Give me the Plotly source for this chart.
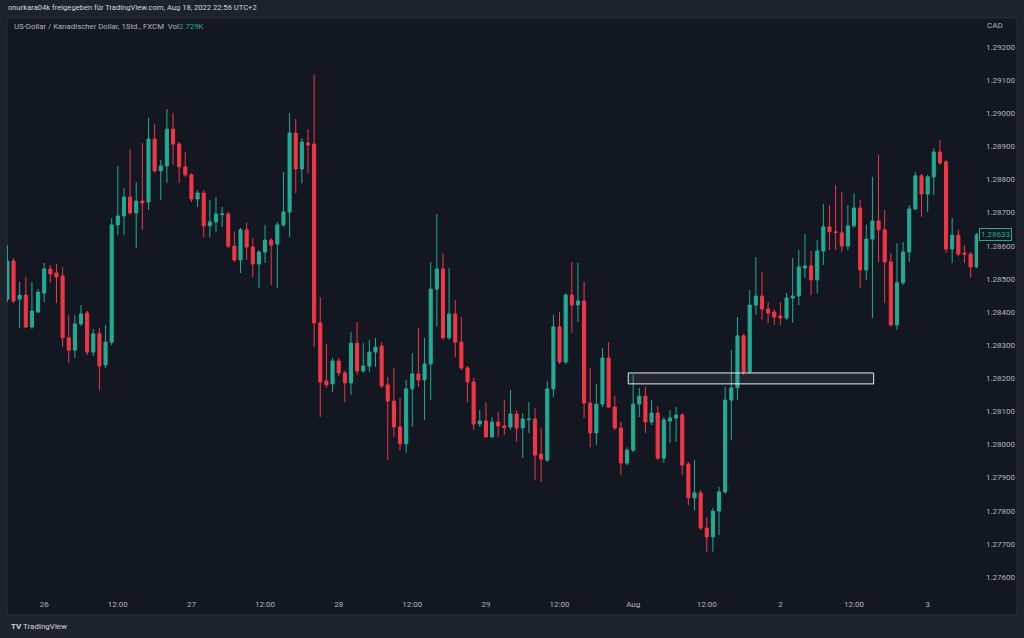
import plotly.graph_objects as go

# ---------------- data (USD/CAD, 1h candles, FXCM) ----------------
first_bar = -6  # bar index of first visible candle (0 = Jul 26 00:00)
opens = [1.28439, 1.28554, 1.28439, 1.28451, 1.28355, 1.28400, 1.28457, 1.28530, 1.28518, 1.28509,
         1.28322, 1.28285, 1.28364, 1.28397, 1.28279, 1.28334, 1.28240, 1.28309, 1.28663, 1.28690,
         1.28747, 1.28699, 1.28735, 1.28732, 1.28922, 1.28826, 1.28841, 1.28952, 1.28907, 1.28838,
         1.28814, 1.28741, 1.28759, 1.28660, 1.28672, 1.28694, 1.28696, 1.28599, 1.28557, 1.28648,
         1.28596, 1.28545, 1.28581, 1.28617, 1.28605, 1.28663, 1.28702, 1.28940, 1.28832, 1.28910,
         1.28907, 1.28367, 1.28192, 1.28183, 1.28252, 1.28216, 1.28186, 1.28306, 1.28222, 1.28237,
         1.28279, 1.28297, 1.28180, 1.28131, 1.28053, 1.28002, 1.28168, 1.28213, 1.28195, 1.28243,
         1.28469, 1.28530, 1.28322, 1.28394, 1.28309, 1.28231, 1.28189, 1.28062, 1.28071, 1.28023,
         1.28068, 1.28056, 1.28053, 1.28092, 1.28050, 1.28075, 1.28077, 1.27971, 1.27953, 1.28168,
         1.28355, 1.28249, 1.28451, 1.28421, 1.28433, 1.28125, 1.28035, 1.28122, 1.28261, 1.28113,
         1.28050, 1.27944, 1.27983, 1.28122, 1.28146, 1.28068, 1.28095, 1.27959, 1.28071, 1.28080,
         1.28089, 1.27941, 1.27839, 1.27854, 1.27748, 1.27721, 1.27799, 1.27857, 1.28134, 1.28171,
         1.28328, 1.28219, 1.28421, 1.28448, 1.28409, 1.28400, 1.28388, 1.28382, 1.28442, 1.28448,
         1.28533, 1.28539, 1.28497, 1.28584, 1.28657, 1.28642, 1.28639, 1.28599, 1.28660, 1.28714,
         1.28527, 1.28620, 1.28675, 1.28648, 1.28551, 1.28361, 1.28488, 1.28581, 1.28711, 1.28811,
         1.28756, 1.28808, 1.28883, 1.28853, 1.28590, 1.28632, 1.28578, 1.28575, 1.28536]
highs = [1.28602, 1.28563, 1.28491, 1.28506, 1.28491, 1.28469, 1.28548, 1.28542, 1.28545, 1.28536,
         1.28391, 1.28391, 1.28421, 1.28403, 1.28349, 1.28352, 1.28361, 1.28684, 1.28841, 1.28774,
         1.28892, 1.28792, 1.28910, 1.28986, 1.28967, 1.28859, 1.29013, 1.29001, 1.28913, 1.28883,
         1.28820, 1.28768, 1.28768, 1.28738, 1.28747, 1.28717, 1.28702, 1.28642, 1.28654, 1.28669,
         1.28623, 1.28587, 1.28663, 1.28623, 1.28672, 1.28823, 1.29001, 1.28983, 1.28925, 1.28952,
         1.29116, 1.28445, 1.28303, 1.28261, 1.28261, 1.28222, 1.28340, 1.28370, 1.28306, 1.28316,
         1.28322, 1.28309, 1.28204, 1.28231, 1.28140, 1.28195, 1.28276, 1.28352, 1.28322, 1.28551,
         1.28696, 1.28578, 1.28533, 1.28436, 1.28385, 1.28237, 1.28201, 1.28104, 1.28128, 1.28083,
         1.28098, 1.28134, 1.28165, 1.28104, 1.28095, 1.28128, 1.28110, 1.28050, 1.28192, 1.28391,
         1.28400, 1.28457, 1.28551, 1.28548, 1.28491, 1.28231, 1.28183, 1.28291, 1.28309, 1.28146,
         1.28068, 1.27992, 1.28210, 1.28171, 1.28174, 1.28134, 1.28116, 1.28083, 1.28104, 1.28113,
         1.28095, 1.27947, 1.27953, 1.27863, 1.27781, 1.27808, 1.27872, 1.28174, 1.28285, 1.28385,
         1.28334, 1.28466, 1.28566, 1.28521, 1.28430, 1.28409, 1.28430, 1.28457, 1.28563, 1.28587,
         1.28636, 1.28584, 1.28617, 1.28726, 1.28723, 1.28783, 1.28762, 1.28723, 1.28759, 1.28738,
         1.28663, 1.28808, 1.28874, 1.28708, 1.28578, 1.28608, 1.28611, 1.28723, 1.28823, 1.28817,
         1.28814, 1.28895, 1.28919, 1.28859, 1.28684, 1.28648, 1.28602, 1.28581, 1.28639]
lows = [1.28430, 1.28427, 1.28352, 1.28352, 1.28349, 1.28397, 1.28430, 1.28488, 1.28427, 1.28294,
        1.28246, 1.28261, 1.28358, 1.28270, 1.28267, 1.28165, 1.28231, 1.28300, 1.28632, 1.28632,
        1.28693, 1.28593, 1.28648, 1.28708, 1.28820, 1.28738, 1.28789, 1.28844, 1.28789, 1.28808,
        1.28732, 1.28717, 1.28626, 1.28626, 1.28642, 1.28657, 1.28593, 1.28551, 1.28518, 1.28557,
        1.28506, 1.28472, 1.28548, 1.28482, 1.28472, 1.28657, 1.28626, 1.28759, 1.28789, 1.28820,
        1.28294, 1.28083, 1.28171, 1.28159, 1.28207, 1.28128, 1.28149, 1.28210, 1.28216, 1.28219,
        1.28234, 1.28171, 1.27953, 1.28023, 1.27983, 1.27974, 1.28053, 1.28174, 1.28074, 1.28134,
        1.28355, 1.28316, 1.28316, 1.28264, 1.28225, 1.28128, 1.28044, 1.28053, 1.28020, 1.28020,
        1.28023, 1.28029, 1.28044, 1.28008, 1.27959, 1.28035, 1.27893, 1.27887, 1.27947, 1.28143,
        1.28243, 1.28243, 1.28337, 1.28370, 1.28080, 1.27992, 1.27999, 1.28113, 1.28110, 1.28044,
        1.27908, 1.27938, 1.27977, 1.28083, 1.28035, 1.28059, 1.27953, 1.27944, 1.28005, 1.28008,
        1.27908, 1.27817, 1.27802, 1.27742, 1.27676, 1.27676, 1.27727, 1.27851, 1.28014, 1.28134,
        1.28210, 1.28213, 1.28391, 1.28376, 1.28367, 1.28361, 1.28361, 1.28376, 1.28367, 1.28421,
        1.28503, 1.28451, 1.28457, 1.28542, 1.28587, 1.28587, 1.28581, 1.28587, 1.28654, 1.28472,
        1.28497, 1.28382, 1.28551, 1.28427, 1.28355, 1.28346, 1.28482, 1.28551, 1.28708, 1.28687,
        1.28702, 1.28753, 1.28844, 1.28578, 1.28548, 1.28569, 1.28548, 1.28503, 1.28533]
closes = [1.28554, 1.28433, 1.28451, 1.28355, 1.28403, 1.28460, 1.28530, 1.28515, 1.28506, 1.28322,
          1.28285, 1.28364, 1.28394, 1.28279, 1.28334, 1.28237, 1.28309, 1.28663, 1.28690, 1.28747,
          1.28699, 1.28735, 1.28729, 1.28922, 1.28826, 1.28841, 1.28952, 1.28907, 1.28838, 1.28814,
          1.28741, 1.28759, 1.28660, 1.28672, 1.28696, 1.28696, 1.28599, 1.28557, 1.28648, 1.28596,
          1.28545, 1.28581, 1.28617, 1.28602, 1.28663, 1.28702, 1.28940, 1.28832, 1.28913, 1.28904,
          1.28367, 1.28189, 1.28180, 1.28252, 1.28216, 1.28186, 1.28306, 1.28222, 1.28237, 1.28279,
          1.28294, 1.28177, 1.28131, 1.28053, 1.28002, 1.28168, 1.28213, 1.28195, 1.28243, 1.28469,
          1.28530, 1.28322, 1.28394, 1.28309, 1.28231, 1.28189, 1.28062, 1.28071, 1.28023, 1.28068,
          1.28056, 1.28051, 1.28092, 1.28050, 1.28077, 1.28077, 1.27968, 1.27956, 1.28168, 1.28355,
          1.28249, 1.28451, 1.28421, 1.28433, 1.28125, 1.28035, 1.28122, 1.28261, 1.28113, 1.28050,
          1.27944, 1.27983, 1.28122, 1.28146, 1.28068, 1.28095, 1.27959, 1.28074, 1.28080, 1.28089,
          1.27938, 1.27839, 1.27854, 1.27748, 1.27721, 1.27799, 1.27857, 1.28134, 1.28171, 1.28328,
          1.28219, 1.28421, 1.28448, 1.28409, 1.28397, 1.28385, 1.28382, 1.28442, 1.28448, 1.28536,
          1.28539, 1.28497, 1.28584, 1.28657, 1.28642, 1.28640, 1.28599, 1.28660, 1.28714, 1.28527,
          1.28620, 1.28675, 1.28648, 1.28551, 1.28361, 1.28488, 1.28581, 1.28711, 1.28811, 1.28756,
          1.28808, 1.28883, 1.28850, 1.28590, 1.28632, 1.28575, 1.28575, 1.28536, 1.28633]

# time axis labels (bar index -> label; weekend gap collapsed)
tick_bars = [0, 12, 24, 36, 48, 60, 72, 84, 96, 108, 120, 132, 144]
tick_text = ["26", "12:00", "27", "12:00", "28", "12:00", "29", "12:00",
             "Aug", "12:00", "2", "12:00", "3"]

# drawn zone (rectangle)
zone_bar_start, zone_bar_end = 95.2, 135.2
zone_low, zone_high = 1.28183, 1.28216

last_price = closes[-1]
vol_text = "2.729K"

# ---------------- styling ----------------
UP = "#22ab94"
DOWN = "#f23645"
PANEL = "#131722"
FRAME = "#1e222d"
TXT = "#b2b5be"
FONT = "Roboto, Liberation Sans, sans-serif"

bars = list(range(first_bar, first_bar + len(opens)))

fig = go.Figure()
fig.add_trace(go.Candlestick(
    x=bars, open=opens, high=highs, low=lows, close=closes,
    increasing=dict(line=dict(color=UP, width=1), fillcolor=UP),
    decreasing=dict(line=dict(color=DOWN, width=1), fillcolor=DOWN),
    whiskerwidth=0, hoverinfo="skip", showlegend=False,
))

W, H = 1024, 638
ml, mr, mt, mb = 7, 46, 18, 48
pw, ph = W - ml - mr, H - mt - mb

def px_x(px):
    return (px - ml) / pw

def px_y(py):
    return (H - mb - py) / ph

shapes = [
    # chart panel background + border
    dict(type="rect", xref="paper", yref="paper", x0=px_x(7), x1=px_x(1017),
         y0=px_y(615), y1=px_y(18), fillcolor=PANEL,
         line=dict(color="#2a2e39", width=1), layer="below"),
    # drawn zone
    dict(type="rect", xref="x", yref="y", x0=zone_bar_start, x1=zone_bar_end,
         y0=zone_low, y1=zone_high, fillcolor="rgba(150,153,164,0.12)",
         line=dict(color="#e6e8ee", width=1), layer="above"),
]

annotations = [
    dict(xref="paper", yref="paper", x=px_x(6), y=px_y(8), xanchor="left", yanchor="middle",
         text="onurkara04k freigegeben für TradingView.com, Aug 18, 2022 22:56 UTC+2",
         showarrow=False, font=dict(family=FONT, size=7.6, color="#d1d4dc")),
    dict(xref="paper", yref="paper", x=px_x(12), y=px_y(27), xanchor="left", yanchor="middle",
         text="US-Dollar / Kanadischer Dollar, 1Std., FXCM  Vol<span style='color:%s'>%s</span>" % (UP, vol_text),
         showarrow=False, font=dict(family=FONT, size=7.8, color=TXT)),
    dict(xref="paper", yref="paper", x=px_x(985), y=px_y(26), xanchor="left", yanchor="middle",
         text="CAD", showarrow=False, font=dict(family=FONT, size=8, color=TXT)),
    dict(xref="paper", yref="y", x=px_x(979), y=last_price, xanchor="left", yanchor="middle",
         text="%.5f" % last_price, showarrow=False, bgcolor=PANEL, bordercolor=UP,
         borderwidth=1, borderpad=1, font=dict(family=FONT, size=8, color=UP)),
    dict(xref="paper", yref="paper", x=px_x(9), y=px_y(627), xanchor="left", yanchor="middle",
         text="<b>TV</b> TradingView", showarrow=False,
         font=dict(family=FONT, size=8, color="#d1d4dc")),
]

fig.update_layout(
    width=W, height=H,
    margin=dict(l=ml, r=mr, t=mt, b=mb, pad=0),
    paper_bgcolor=FRAME, plot_bgcolor=PANEL,
    font=dict(family=FONT, size=8, color=TXT),
    shapes=shapes, annotations=annotations,
    boxgap=0.28,
    xaxis=dict(
        range=[(7 - 44.2) / 6.135, (978 - 44.2) / 6.135],
        tickmode="array", tickvals=tick_bars, ticktext=tick_text,
        showgrid=False, zeroline=False, showline=False, ticks="",
        ticklabelstandoff=8,
        rangeslider=dict(visible=False), fixedrange=True,
        tickfont=dict(family=FONT, size=8, color=TXT),
    ),
    yaxis=dict(
        side="right", range=[1.275608, 1.292875],
        tick0=1.276, dtick=0.001, tickformat=".5f",
        showgrid=False, zeroline=False, showline=False, ticks="",
        ticklabelstandoff=7, fixedrange=True,
        tickfont=dict(family=FONT, size=8, color=TXT),
    ),
)

fig.write_html("out.html", config={"displayModeBar": False},
               post_script="document.body.style.margin='0';document.body.style.overflow='hidden';")
